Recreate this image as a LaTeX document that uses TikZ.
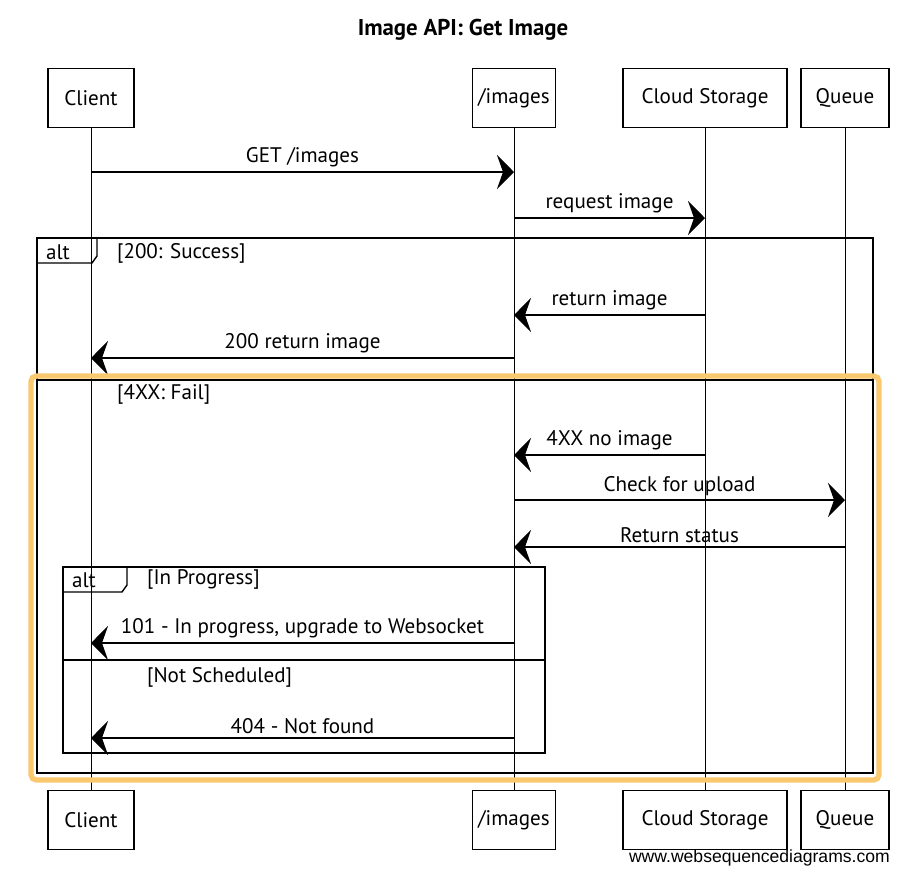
\documentclass[tikz,border=0pt]{standalone}
\usepackage{fontspec}
\setmainfont{PT Sans}
\newfontfamily\wsdfont{Liberation Sans}
\usetikzlibrary{arrows.meta}
\definecolor{hilite}{RGB}{250,200,110}
\tikzset{
    actor/.style={rectangle,draw,line width=0.8pt,minimum height=1.18cm,font=\fontsize{12}{14}\selectfont},
    msg/.style={-{Stealth[length=0.34cm,width=0.68cm,inset=0.12cm]},line width=1.2pt},
    lifeline/.style={line width=0.5pt},
    frame/.style={draw,line width=0.8pt},
    lbl/.style={font=\fontsize{12}{14}\selectfont,inner sep=2pt},
    guard/.style={font=\fontsize{12}{14}\selectfont,anchor=west,inner sep=1pt}
}

\begin{document}
\begin{tikzpicture}[x=0.02cm,y=-0.02cm]
\useasboundingbox (0,0) rectangle (914,877);

\node[lbl,font=\bfseries\fontsize{13}{15}\selectfont] (title) at (463,30) {Image API: Get Image};

\node[actor,minimum width=1.72cm] (c1) at (91,98) {Client};
\node[actor,minimum width=1.66cm] (i1) at (514,98) {/images};
\node[actor,minimum width=3.28cm] (s1) at (705,98) {Cloud Storage};
\node[actor,minimum width=1.76cm] (q1) at (845,98) {Queue};

\node[actor,minimum width=1.72cm] (c2) at (91,820) {Client};
\node[actor,minimum width=1.66cm] (i2) at (514,820) {/images};
\node[actor,minimum width=3.28cm] (s2) at (705,820) {Cloud Storage};
\node[actor,minimum width=1.76cm] (q2) at (845,820) {Queue};

\draw[lifeline] (c1) -- (c2);
\draw[lifeline] (i1) -- (i2);
\draw[lifeline] (s1) -- (s2);
\draw[lifeline] (q1) -- (q2);

% outer alt
\draw[frame] (37,238) rectangle (873,773);
\draw[frame] (37,263) -- (92,263) -- (97,256) -- (97,238);
\node[guard] (alt1) at (44,252) {alt};
\node[guard] (g1) at (115,253) {[200: Success]};
\draw[frame] (37,380) -- (873,380);
\node[guard] (g2) at (115,394) {[4XX: Fail]};

% inner alt
\draw[frame] (63,567) rectangle (545,753);
\draw[frame] (63,592) -- (122,592) -- (127,585) -- (127,567);
\node[guard] (alt2) at (70,580) {alt};
\node[guard] (g3) at (145,579) {[In Progress]};
\draw[frame] (63,660) -- (545,660);
\node[guard] (g4) at (145,677) {[Not Scheduled]};

\coordinate (y1) at (0,172);
\coordinate (y2) at (0,218);
\coordinate (y3) at (0,315);
\coordinate (y4) at (0,358);
\coordinate (y5) at (0,455);
\coordinate (y6) at (0,500);
\coordinate (y7) at (0,547);
\coordinate (y8) at (0,643);
\coordinate (y9) at (0,738);

\draw[msg] (c1 |- y1) -- (i1 |- y1) node[lbl,midway,above] {GET /images};
\draw[msg] (i1 |- y2) -- (s1 |- y2) node[lbl,midway,above] {request image};
\draw[msg] (s1 |- y3) -- (i1 |- y3) node[lbl,midway,above] {return image};
\draw[msg] (i1 |- y4) -- (c1 |- y4) node[lbl,midway,above] {200 return image};
\draw[msg] (s1 |- y5) -- (i1 |- y5) node[lbl,midway,above] {4XX no image};
\draw[msg] (i1 |- y6) -- (q1 |- y6) node[lbl,midway,above] {Check for upload};
\draw[msg] (q1 |- y7) -- (i1 |- y7) node[lbl,midway,above] {Return status};
\draw[msg] (i1 |- y8) -- (c1 |- y8) node[lbl,midway,above] {101 - In progress, upgrade to Websocket};
\draw[msg] (i1 |- y9) -- (c1 |- y9) node[lbl,midway,above] {404 - Not found};

\draw[hilite,line width=3pt,rounded corners=3pt] (31,376) rectangle (879,780);

\node[anchor=east,font=\wsdfont\fontsize{10}{12}\selectfont] (wsd) at (896,858) {www.websequencediagrams.com};
\end{tikzpicture}
\end{document}
